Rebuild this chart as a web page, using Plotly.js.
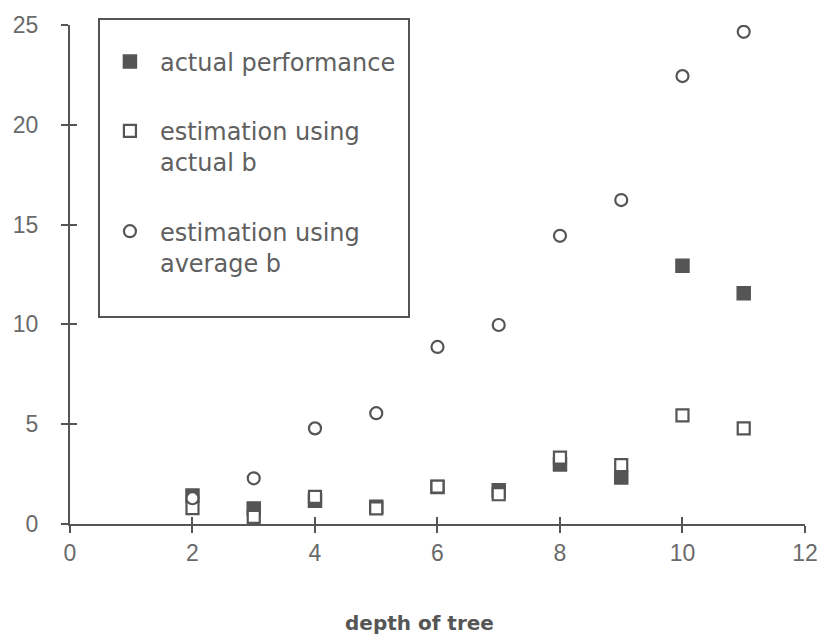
<!DOCTYPE html>
<html>
<head>
<meta charset="utf-8">
<script src="https://cdn.plot.ly/plotly-3.0.1.min.js"></script>
<style>html,body{margin:0;padding:0;background:#fff;}#chart{width:817px;height:636px;}</style>
</head>
<body>
<div id="chart"></div>
<script>
var depth = [2, 3, 4, 5, 6, 7, 8, 9, 10, 11];
var actualPerformance = [1.43, 0.78, 1.16, 0.86, 1.85, 1.69, 2.98, 2.33, 12.94, 11.56];
var estActualB = [0.8, 0.36, 1.36, 0.78, 1.87, 1.49, 3.33, 2.95, 5.44, 4.79];
var estAverageB = [1.29, 2.29, 4.79, 5.55, 8.87, 9.97, 14.44, 16.23, 22.44, 24.66];
var seriesNames = ['actual performance&nbsp;', 'estimation using<br>actual b', 'estimation using<br>average b<br> '];
var xTicks = [0, 2, 4, 6, 8, 10, 12];
var yTicks = [0, 5, 10, 15, 20, 25];
var xTitle = 'depth of tree';

var ink = '#555555';
var font = 'DejaVu Sans, sans-serif';
var tickFont = 'Liberation Sans, Arial, sans-serif';

var traces = [
  {x: depth, y: actualPerformance, name: seriesNames[0], type: 'scatter', mode: 'markers', legendgroup: 'a',
   marker: {symbol: 'square', size: 13, color: ink, line: {color: ink, width: 1.5}}},
  {x: depth, y: estActualB, name: seriesNames[1], type: 'scatter', mode: 'markers', legendgroup: 'b',
   marker: {symbol: 'square', size: 12, color: '#ffffff', line: {color: ink, width: 2.2}}},
  {x: depth, y: estAverageB, name: seriesNames[2], type: 'scatter', mode: 'markers', legendgroup: 'c',
   marker: {symbol: 'circle', size: 12, color: '#ffffff', line: {color: ink, width: 2.2}}},
  {x: [], y: [], xaxis: 'x2', yaxis: 'y2', type: 'scatter', mode: 'markers', showlegend: false, hoverinfo: 'skip'}
];

var axisCommon = {
  showgrid: false, zeroline: false, showline: true, linecolor: ink, linewidth: 2,
  ticks: 'outside', ticklen: 7, tickwidth: 2, tickcolor: ink,
  tickfont: {family: tickFont, size: 23, color: '#6a6a6a'}
};

var layout = {
  width: 817, height: 636,
  margin: {l: 70, r: 12, t: 25, b: 112},
  paper_bgcolor: '#ffffff', plot_bgcolor: '#ffffff',
  showlegend: true,
  xaxis: Object.assign({}, axisCommon, {
    range: [0, 12.0005], tickvals: xTicks, ticktext: xTicks.map(String), ticklabelstandoff: 0,
    ticklabeloverflow: 'allow'
  }),
  yaxis: Object.assign({}, axisCommon, {
    range: [0, 25], tickvals: yTicks, ticktext: yTicks.map(String), ticklabelstandoff: 18
  }),
  xaxis2: {overlaying: 'x', anchor: 'y', range: [0, 12.0005], tickvals: xTicks, showticklabels: false,
    ticks: 'inside', ticklen: 7, tickwidth: 2, tickcolor: ink, showgrid: false, zeroline: false, showline: false},
  yaxis2: {overlaying: 'y', anchor: 'x', range: [0, 25], tickvals: yTicks, showticklabels: false,
    ticks: 'inside', ticklen: 7, tickwidth: 2, tickcolor: ink, showgrid: false, zeroline: false, showline: false},
  annotations: [{
    text: '<b>' + xTitle + '</b>', xref: 'paper', yref: 'paper', x: 0.476, y: -0.199,
    xanchor: 'center', yanchor: 'middle', showarrow: false,
    font: {family: font, size: 20, color: '#555555'}
  }],
  legend: {
    x: 0.038, y: 1.014, xanchor: 'left', yanchor: 'top',
    bordercolor: ink, borderwidth: 2, bgcolor: '#ffffff',
    font: {family: font, size: 24, color: '#606060'},
    title: {text: ' ', font: {family: font, size: 15}},
    itemwidth: 50,
    traceorder: 'grouped', tracegroupgap: 35, valign: 'top'
  }
};

Plotly.newPlot('chart', traces, layout, {staticPlot: true});
</script>
</body>
</html>
